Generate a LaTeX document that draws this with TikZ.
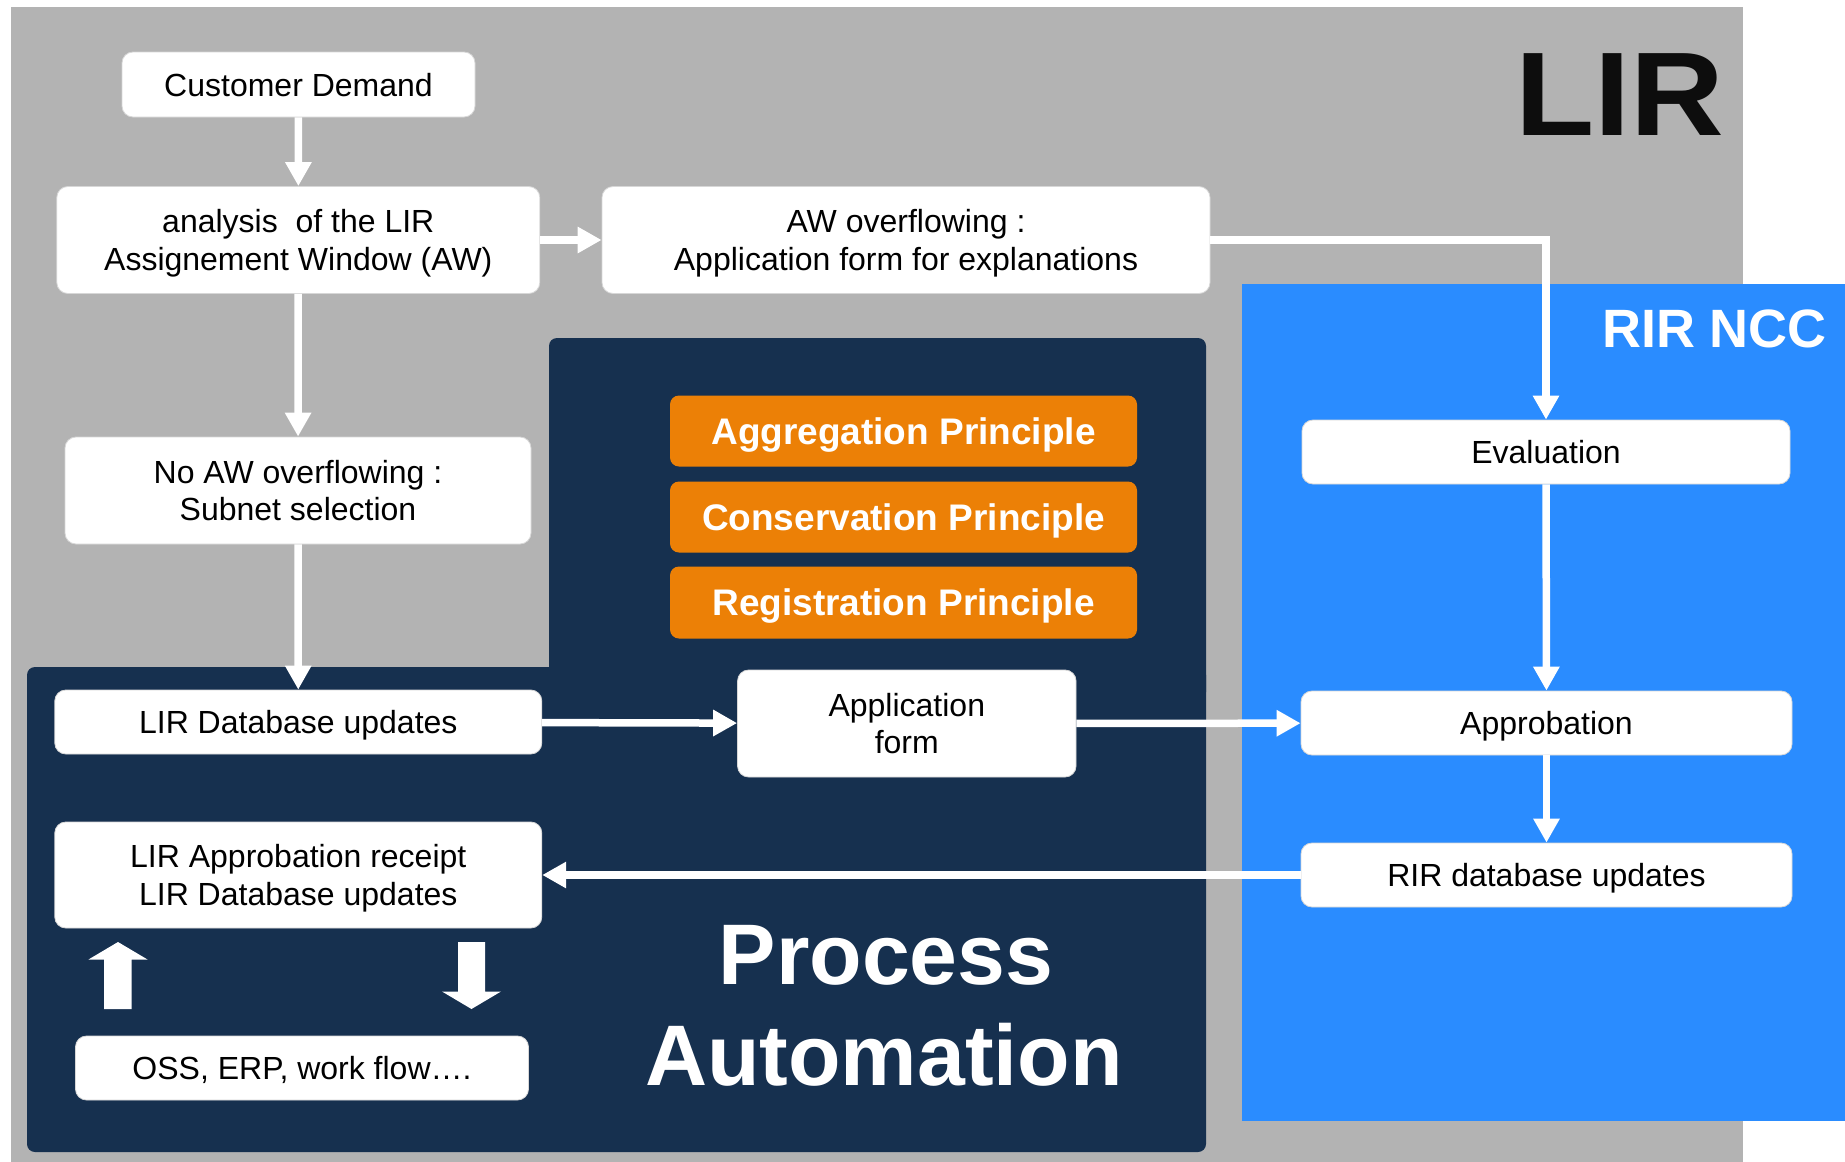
\documentclass[tikz,border=0pt]{standalone}
\usepackage{fontspec}
\setmainfont{Liberation Sans}
\usetikzlibrary{arrows.meta}
\definecolor{bggray}{RGB}{179,179,179}
\definecolor{navy}{RGB}{22,48,79}
\definecolor{rirblue}{RGB}{42,140,255}
\definecolor{orng}{RGB}{236,128,6}
\definecolor{lirblack}{RGB}{13,13,13}
\definecolor{boxedge}{RGB}{215,215,215}
\begin{document}
\begin{tikzpicture}[x=1pt,y=-1pt,
  wbox/.style={fill=white, draw=boxedge, line width=0.8pt, rounded corners=11pt, align=center, inner sep=0pt, text depth=0pt, text=black, font=\fontsize{32}{37.5}\selectfont},
  obox/.style={fill=orng, rounded corners=9pt, inner sep=0pt, text depth=0pt, text=white, minimum width=467pt, minimum height=71pt, font=\fontsize{37}{44}\selectfont\bfseries},
  flow/.style={draw=white, line width=7.5pt, -{Triangle[width=25pt,length=24pt]}},
  bigarrow/.style={fill=white}
]
\path[use as bounding box] (0,0) rectangle (1845,1162);
% backgrounds
\fill[bggray] (10.6,7) rectangle (1743,1162);
\fill[rirblue] (1242,284) rectangle (1845,1121);
\fill[navy, rounded corners=8pt] (549,338) rectangle (1206,700);
\fill[navy, rounded corners=8pt] (27,667) rectangle (1206,1152);

% titles
\node[anchor=base, inner sep=0pt, text=lirblack, font=\fontsize{119}{130}\selectfont\bfseries] (lirtitle) at (1620,135) {\scalebox{1.09}[1]{LIR}};
\node[anchor=base, inner sep=0pt, text=white, font=\fontsize{54}{60}\selectfont\bfseries] (rirtitle) at (1714.5,347.5) {RIR NCC};
\node[anchor=base, inner sep=0pt, text=white, font=\fontsize{86}{100}\selectfont\bfseries] (proc1) at (886,984) {Process};
\node[anchor=base, inner sep=0pt, text=white, font=\fontsize{86}{100}\selectfont\bfseries] (proc2) at (884,1085.6) {Automation};

% principles
\node[obox] (agg) at (903.5,431) {Aggregation Principle};
\node[obox] (cons) at (903.5,517) {Conservation Principle};
\node[obox, minimum height=72pt] (reg) at (903.5,602.5) {Registration Principle};

% white boxes
\node[wbox, minimum width=353pt, minimum height=65pt] (cust) at (298.5,84.5) {Customer Demand};
\node[wbox, minimum width=483pt, minimum height=107pt] (ana) at (298.3,240) {analysis\ \ of the LIR\\Assignement Window (AW)};
\node[wbox, minimum width=608pt, minimum height=107pt] (aw) at (906,240) {AW overflowing :\\Application form for explanations};
\node[wbox, minimum width=466pt, minimum height=107pt] (noaw) at (298,490.5) {No AW overflowing :\\Subnet selection};
\node[wbox, minimum width=487pt, minimum height=64pt] (lirdb) at (298.3,722) {LIR Database updates};
\node[wbox, minimum width=338.5pt, minimum height=107pt] (app) at (906.8,723.5) {Application\\form};
\node[wbox, minimum width=487pt, minimum height=106pt] (lirrec) at (298.3,875) {LIR Approbation receipt\\LIR Database updates};
\node[wbox, minimum width=453pt, minimum height=64pt] (oss) at (302,1068) {OSS, ERP, work flow\dots.};
\node[wbox, minimum width=488pt, minimum height=64pt] (eval) at (1546,452) {Evaluation};
\node[wbox, minimum width=491pt, minimum height=64pt] (appr) at (1546.5,723) {Approbation};
\node[wbox, minimum width=491pt, minimum height=64pt] (rirdb) at (1546.5,875) {RIR database updates};

% connectors
\draw[flow] (cust) -- (ana);
\draw[flow] (ana) -- (aw);
\draw[flow] (ana) -- (noaw);
\draw[flow] (noaw) -- (lirdb);
\draw[flow] (lirdb) -- (app);
\draw[flow] (app) -- (appr);
\draw[flow] (aw.east) -| (eval.north);
\draw[flow] (eval) -- (appr);
\draw[flow] (appr) -- (rirdb);
\draw[flow] (rirdb) -- (lirrec);

% block arrows
\fill[bigarrow] (104,1009) -- (104,959.5) -- (88.5,959.5) -- (118,942) -- (147.5,959.5) -- (131.6,959.5) -- (131.6,1009) -- cycle;
\fill[bigarrow] (458,942) -- (485,942) -- (485,991.5) -- (501,991.5) -- (471.5,1009) -- (442,991.5) -- (458,991.5) -- cycle;
\end{tikzpicture}
\end{document}
